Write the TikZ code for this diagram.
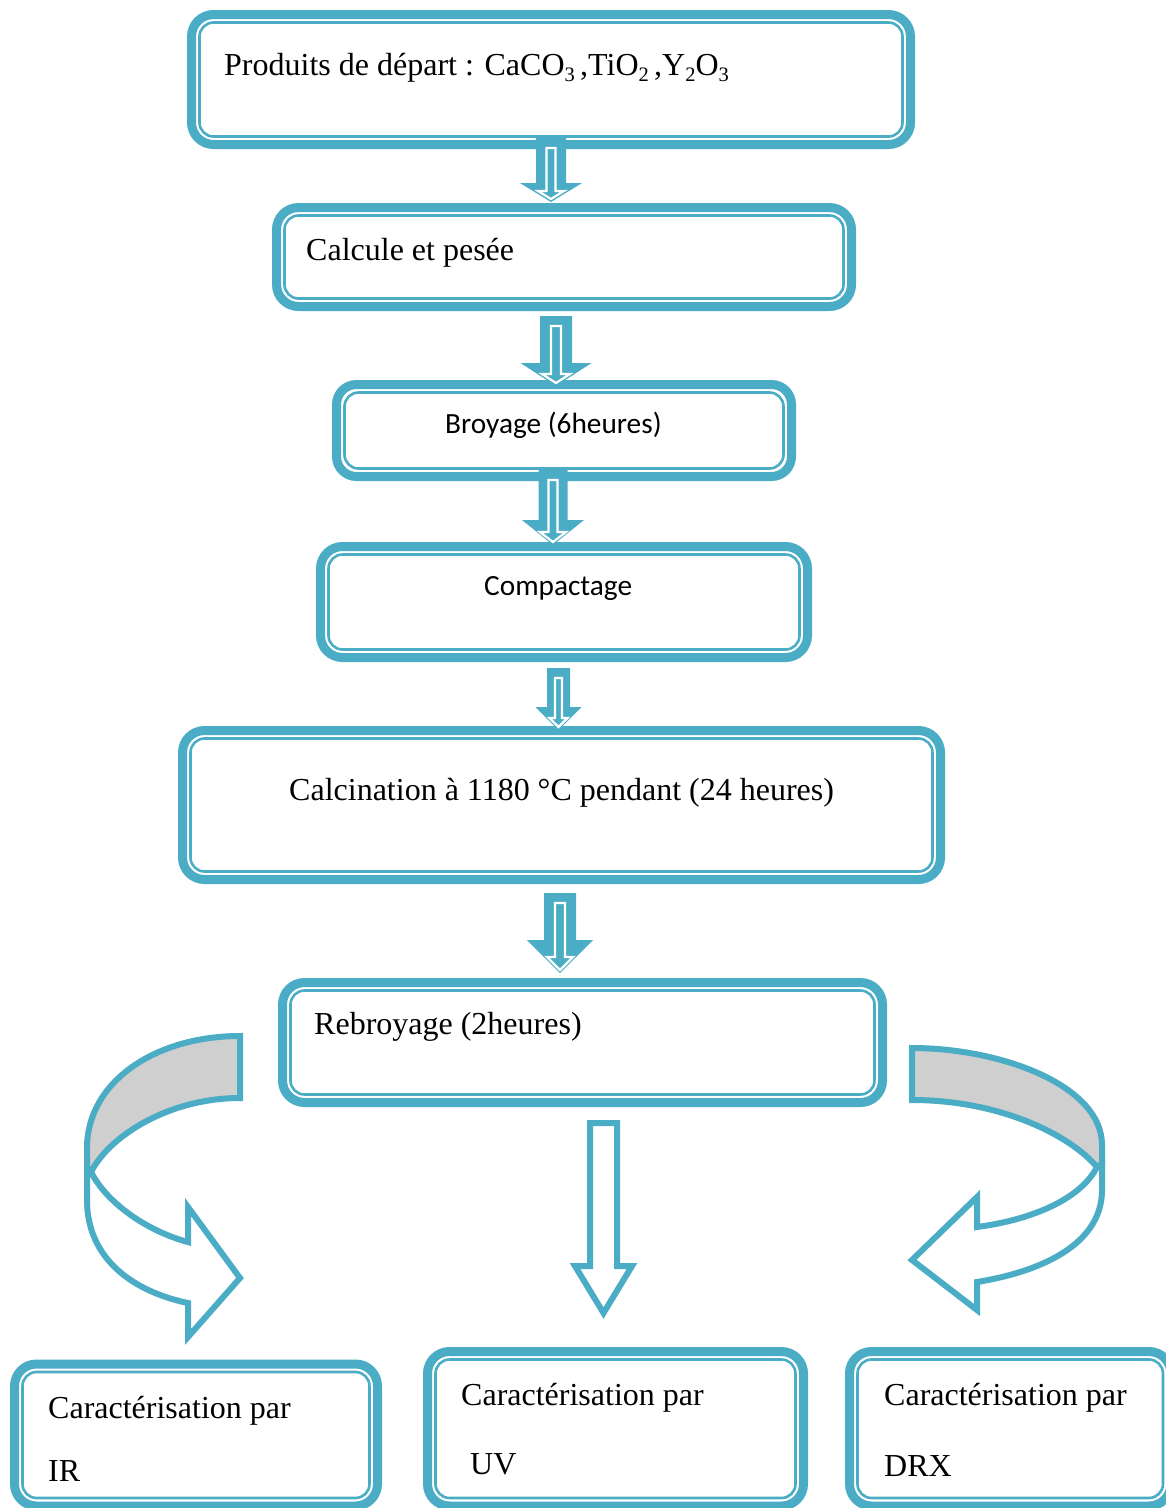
\documentclass[tikz,border=0pt]{standalone}
\usepackage{fontspec}
\setmainfont{Liberation Serif}
\newfontfamily\calib{Carlito}
\usetikzlibrary{calc}
\definecolor{acc}{HTML}{4BACC6}
\definecolor{band}{HTML}{CFCFCF}
\newcommand\chemsub[1]{\raisebox{-0.2em}{\fontsize{20.5}{21}\selectfont #1}}
\tikzset{
  box/.style={rectangle, draw=acc, line width=9pt, rounded corners=22pt, inner sep=0pt, outer sep=0pt, fill=white},
  inbox/.style={draw=acc, line width=2.6pt, rounded corners=14pt},
  serif/.style={font=\fontsize{32}{38}\selectfont, inner sep=0pt, anchor=base west},
  sans/.style={font=\calib\fontsize{29.3}{35}\selectfont, inner sep=0pt, anchor=base west},
  curv/.style={draw=acc, line width=6pt, line join=miter},
  arrowfill/.style={fill=acc},
  arrowin/.style={draw=white, line width=2.2pt, line join=miter},
}
% #1 start, #2 end, #3 shaft half, #4 head half, #5 head length, #6 inner shaft half, #7 inner head half, #8 inner head length
\newcommand\blockarrow[8]{%
  \fill[arrowfill] let \p1=(#1), \p2=(#2) in
    (\x1-#3pt,\y1) -- (\x1+#3pt,\y1) -- (\x1+#3pt,\y2+#5pt) -- (\x1+#4pt,\y2+#5pt)
    -- (\x2,\y2) -- (\x1-#4pt,\y2+#5pt) -- (\x1-#3pt,\y2+#5pt) -- cycle;
  \draw[arrowin] let \p1=(#1), \p2=(#2) in
    (\x1-#6pt,\y1-10pt) -- (\x1+#6pt,\y1-10pt) -- (\x1+#6pt,\y2+3pt+#8pt) -- (\x1+#7pt,\y2+3pt+#8pt)
    -- (\x2,\y2+3pt) -- (\x1-#7pt,\y2+3pt+#8pt) -- (\x1-#6pt,\y2+3pt+#8pt) -- cycle;
}
\begin{document}
\begin{tikzpicture}[x=1pt,y=-1pt]
\useasboundingbox (0,0) rectangle (1166,1508);
\clip (0,0) rectangle (1166,1508);
\fill[white] (0,0) rectangle (1166,1508);

% boxes
\node[box, minimum width=719pt, minimum height=130pt] (b1) at (551,79.5) {};
\node[box, minimum width=575pt, minimum height=99pt] (b2) at (564,257) {};
\node[box, minimum width=455pt, minimum height=92pt, rounded corners=20pt] (b3) at (564,430.5) {};
\node[box, minimum width=487pt, minimum height=111pt] (b4) at (564,602) {};
\node[box, minimum width=758pt, minimum height=149pt] (b5) at (561.5,805) {};
\node[box, minimum width=600pt, minimum height=120pt] (b6) at (582.5,1042.5) {};
\node[box, minimum width=363pt, minimum height=142pt] (b7) at (196,1435) {};
\node[box, minimum width=376pt, minimum height=154.5pt] (b8) at (615.5,1428.75) {};
\node[box, minimum width=321.5pt, minimum height=154.5pt] (b9) at (1010.25,1428.75) {};
\foreach \n in {b1,b2,b3,b4,b5,b6,b7,b8,b9}
  \draw[inbox] ($(\n.north west)+(8,8)$) rectangle ($(\n.south east)+(-8,-8)$);

% texts
\node[serif] (t1) at (224,75) {Produits de départ : CaCO\chemsub{3}\,,TiO\chemsub{2}\,,Y\chemsub{2}O\chemsub{3}};
\node[serif] (t2) at (306,260) {Calcule et pesée};
\node[sans] (t3) at (445,433) {Broyage (6heures)};
\node[sans] (t4) at (484,595) {Compactage};
\node[serif] (t5) at (289,800) {Calcination à 1180 °C pendant (24 heures)};
\node[serif] (t6) at (314,1034) {Rebroyage (2heures)};
\node[serif] (t7a) at (48,1418) {Caractérisation par};
\node[serif] (t7b) at (48,1481) {IR};
\node[serif] (t8a) at (461,1405) {Caractérisation par};
\node[serif] (t8b) at (470,1474) {UV};
\node[serif] (t9a) at (884,1405) {Caractérisation par};
\node[serif] (t9b) at (884,1476) {DRX};

% block arrows between boxes
\coordinate (a1s) at (551,138);  \coordinate (a1e) at (551,202);
\coordinate (a2s) at (556,316);  \coordinate (a2e) at (556,386);
\coordinate (a3s) at (553,470);  \coordinate (a3e) at (553,545);
\coordinate (a4s) at (558.5,668); \coordinate (a4e) at (558.5,730);
\coordinate (a5s) at (560,893);  \coordinate (a5e) at (560,973);
\blockarrow{a1s}{a1e}{15}{31}{19}{4.5}{13}{8}
\blockarrow{a2s}{a2e}{16}{35.5}{23}{5}{14}{9}
\blockarrow{a3s}{a3e}{14.5}{31}{25}{4.5}{13}{10}
\blockarrow{a4s}{a4e}{11.5}{23}{23}{3.5}{9}{9}
\blockarrow{a5s}{a5e}{16}{33}{33}{5}{13}{13}

% left curved arrow (b6 -> b7)
\draw[curv, fill=band] (240,1036) .. controls (155,1036) and (87,1082) .. (87,1148)
  -- (87,1168) -- (91,1172) .. controls (110,1135) and (170,1098) .. (240,1098) -- cycle;
\draw[curv] (91,1172) .. controls (108,1205) and (150,1232) .. (188,1242)
  -- (188,1207) -- (240,1278) -- (188,1337) -- (188,1303)
  .. controls (135,1292) and (87,1260) .. (87,1200) -- (87,1165);

% central arrow (b6 -> b8)
\draw[curv] (590,1123) -- (617,1123) -- (617,1266) -- (632,1266) -- (603.5,1313)
  -- (575,1266) -- (590,1266) -- cycle;

% right curved arrow (b6 -> b9)
\draw[curv, fill=band] (912,1048) .. controls (1000,1048) and (1102,1085) .. (1102,1145)
  -- (1102,1164) -- (1097,1167) .. controls (1070,1135) and (1000,1100) .. (912,1100) -- cycle;
\draw[curv] (1097,1167) .. controls (1080,1200) and (1030,1220) .. (977,1227)
  -- (977,1197) -- (912,1260) -- (977,1310) -- (977,1282)
  .. controls (1050,1270) and (1102,1240) .. (1102,1190) -- (1102,1160);
\end{tikzpicture}
\end{document}
